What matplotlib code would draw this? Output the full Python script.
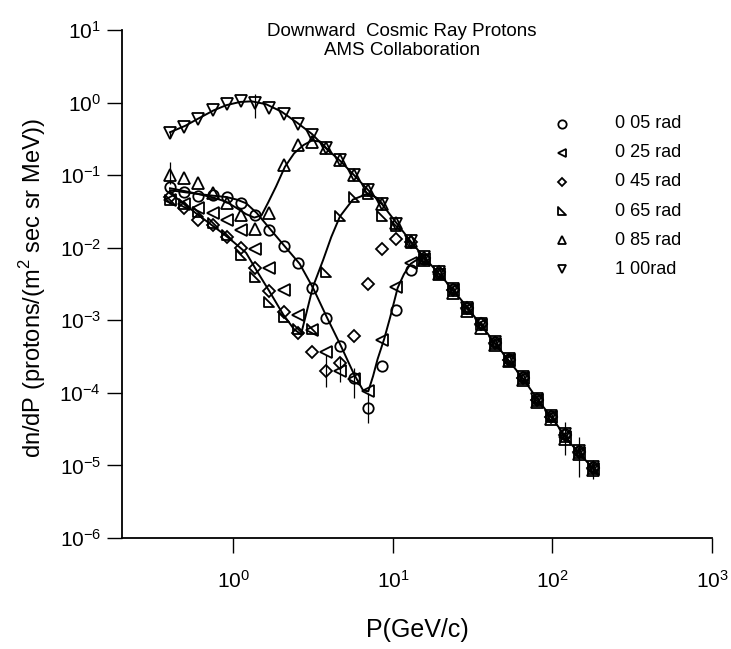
import numpy as np
import matplotlib
matplotlib.use('Agg')
import matplotlib.pyplot as plt
from matplotlib.path import Path

plt.rcParams['font.family'] = ['Liberation Sans', 'DejaVu Sans']
plt.rcParams['mathtext.fontset'] = 'custom'
plt.rcParams['mathtext.rm'] = 'Liberation Sans'
plt.rcParams['axes.unicode_minus'] = False

# momentum bins (GeV/c)
P = [0.40, 0.49, 0.60, 0.74, 0.91, 1.12, 1.37, 1.68, 2.06, 2.52, 3.09, 3.79, 4.65, 5.70, 6.98,
     8.56, 10.5, 12.9, 15.7, 19.3, 23.7, 29.0, 35.5, 43.5, 53.3, 65.5, 80.2, 98.3, 120, 147, 180]

labels = ['0 05 rad', '0 25 rad', '0 45 rad', '0 65 rad', '0 85 rad', '1 00rad']

# dn/dP for each zenith angle bin
y005 = [0.068, 0.058, 0.052, 0.053, 0.050, 0.041, 0.028, 0.0178, 0.0104, 0.0062, 0.0028, 0.00107,
        0.00044, 0.00016, 6.2e-5, 0.000235, 0.00139, 0.0049,
        0.0071, 0.0045, 0.0027, 0.00150, 0.00092, 0.00050, 0.00029, 0.000165, 8.2e-5, 4.8e-5, 2.7e-5, 1.6e-5, 9.5e-6]
y025 = [0.045, 0.040, 0.035, 0.030, 0.024, 0.0176, 0.0097, 0.0052, 0.0026, 0.0012, 0.00074, 0.00036,
        0.00020, 0.000155, 0.000107, 0.00054, 0.0029, 0.0061,
        0.0069, 0.0044, 0.0026, 0.00145, 0.00086, 0.00047, 0.00028, 0.000158, 7.9e-5, 4.6e-5, 2.5e-5, 1.5e-5, 9.0e-6]
y045 = [0.050, 0.035, 0.024, 0.0205, 0.014, 0.0098, 0.0052, 0.0025, 0.0013, 0.00066, 0.00036, 0.00020,
        0.00026, 0.00060, 0.0032, 0.0095, 0.0130, 0.0118,
        0.0073, 0.0046, 0.0026, 0.00148, 0.00088, 0.00049, 0.000285, 0.00016, 8.0e-5, 4.7e-5, 2.6e-5, 1.55e-5, 9.2e-6]
y065 = [0.045, 0.040, 0.031, 0.022, 0.015, 0.0080, 0.0040, 0.0018, 0.0011, 0.00075, 0.00075, 0.0047,
        0.027, 0.050, 0.055, 0.027, 0.020, 0.0115,
        0.0070, 0.0044, 0.0025, 0.00142, 0.00085, 0.00047, 0.000278, 0.000156, 7.8e-5, 4.6e-5, 2.5e-5, 1.5e-5, 8.9e-6]
y085 = [0.10, 0.090, 0.079, 0.057, 0.041, 0.028, 0.018, 0.030, 0.138, 0.26, 0.29, 0.24,
        0.16, 0.10, 0.062, 0.040, 0.022, 0.0125,
        0.0068, 0.0043, 0.0024, 0.00135, 0.00078, 0.00046, 0.000275, 0.000152, 7.5e-5, 4.4e-5, 2.3e-5, 1.45e-5, 8.6e-6]
y100 = [0.385, 0.466, 0.594, 0.78, 0.95, 1.06, 1.00, 0.84, 0.69, 0.50, 0.36, 0.235,
        0.16, 0.10, 0.063, 0.040, 0.0215, 0.0125,
        0.0074, 0.0046, 0.0027, 0.00150, 0.00090, 0.00050, 0.00029, 0.000164, 8.2e-5, 4.8e-5, 2.7e-5, 1.6e-5, 9.4e-6]

# fitted curves
fit100_P = [0.40, 0.50, 0.60, 0.75, 0.90, 1.10, 1.30, 1.60, 2.00, 2.50, 3.10, 3.80, 4.70, 5.70, 7.00,
            8.60, 10.5, 13.0, 16.0, 20.0, 25.0, 30.0, 40.0, 50.0, 65.0, 80.0, 100, 130, 180]
fit100_y = [0.39, 0.48, 0.60, 0.78, 0.92, 1.02, 1.04, 0.95, 0.75, 0.53, 0.37, 0.235, 0.155, 0.10, 0.062,
            0.039, 0.022, 0.012, 0.0070, 0.0041, 0.0023, 0.0014, 0.00062, 0.00033, 0.00016, 8.3e-5, 4.4e-5, 2.0e-5, 9.0e-6]
fit085_P = [0.40, 0.50, 0.60, 0.75, 0.90, 1.05, 1.20, 1.35, 1.50, 1.65, 1.85, 2.10, 2.40, 2.75, 3.10, 3.50, 4.00]
fit085_y = [0.066, 0.060, 0.055, 0.049, 0.043, 0.035, 0.029, 0.026, 0.028, 0.042, 0.070, 0.13, 0.20, 0.26, 0.30, 0.29, 0.21]
fit065_P = [0.40, 0.48, 0.58, 0.70, 0.85, 1.00, 1.20, 1.40, 1.70, 2.05, 2.40, 2.65, 2.85, 3.15, 3.65, 4.10,
            4.65, 5.60, 7.00, 8.00, 8.60]
fit065_y = [0.056, 0.042, 0.030, 0.022, 0.016, 0.012, 0.0085, 0.0048, 0.0024, 0.0012, 0.00075, 0.00064,
            0.0012, 0.0029, 0.0068, 0.014, 0.027, 0.046, 0.056, 0.048, 0.040]
fit005_P = [0.40, 0.50, 0.60, 0.75, 0.90, 1.05, 1.20, 1.40, 1.70, 2.10, 2.60, 3.15, 3.85, 4.70, 5.70, 6.50,
            7.00, 7.50, 8.00, 8.80, 9.60, 10.7, 11.7, 12.9, 14.2, 15.5]
fit005_y = [0.062, 0.058, 0.055, 0.052, 0.050, 0.046, 0.041, 0.030, 0.018, 0.0104, 0.0060, 0.0028, 0.0011,
            0.00045, 0.00018, 0.000108, 0.000105, 0.00017, 0.00029, 0.00055, 0.0011, 0.0028, 0.0043, 0.0060,
            0.0069, 0.0071]

# a few visible error bars
bar_P = [0.40, 0.40, 1.37, 3.79, 4.65, 5.70, 6.98, 120, 147, 180]
bar_lo = [0.075, 0.33, 0.62, 0.00012, 0.00014, 8.5e-5, 3.8e-5, 1.4e-5, 7.0e-6, 6.5e-6]
bar_hi = [0.15, 0.40, 1.30, 0.00033, 0.00031, 0.00022, 0.00010, 4.0e-5, 2.5e-5, 1.2e-5]

rtri = Path([(-1, 1), (-1, -1), (1, -1), (-1, 1)], [Path.MOVETO, Path.LINETO, Path.LINETO, Path.CLOSEPOLY])
markers = ['o', '<', 'D', rtri, '^', 'v']
sizes = [7.5, 8, 6, 7.5, 8, 8]
leg_sizes = [6, 6, 4.5, 6, 6, 6]
series = [y005, y025, y045, y065, y085, y100]

fig = plt.figure(figsize=(7.31, 6.49), dpi=100)
ax = fig.add_axes([122 / 731, 111 / 649, 590 / 731, 508 / 649])
ax.set_xscale('log')
ax.set_yscale('log')

for fp, fy in [(fit100_P, fit100_y), (fit085_P, fit085_y), (fit065_P, fit065_y), (fit005_P, fit005_y)]:
    ax.plot(fp, fy, color='black', lw=1.4, zorder=2)

ax.vlines(bar_P, bar_lo, bar_hi, color='black', lw=0.9, zorder=2)

for yv, mk, ms in zip(series, markers, sizes):
    ax.plot(P, yv, linestyle='none', marker=mk, ms=ms, mfc='none', mec='black', mew=1.3, zorder=3)

ax.set_xlim(0.2, 1000)
ax.set_ylim(1e-6, 10)
ax.set_xticks([1, 10, 100, 1000])
ax.set_yticks([1e-6, 1e-5, 1e-4, 1e-3, 1e-2, 1e-1, 1, 10])
ax.minorticks_off()
ax.tick_params(direction='out', length=11, width=1.0, labelsize=15, color='black')
ax.tick_params(axis='x', pad=12)
ax.tick_params(axis='y', pad=4)
ax.spines['top'].set_visible(False)
ax.spines['right'].set_visible(False)
ax.spines['left'].set_linewidth(1.3)
ax.spines['bottom'].set_linewidth(1.3)

# legend drawn by hand
for i, (lab, mk, ms) in enumerate(zip(labels, markers, leg_sizes)):
    yy = 0.815 - i * 0.0571
    ax.plot([0.745], [yy], transform=ax.transAxes, marker=mk, ms=ms, mfc='none', mec='black',
            mew=1.3, linestyle='none', clip_on=False)
    ax.text(0.835, yy, lab, transform=ax.transAxes, va='center', ha='left', fontsize=13)

fig.text(402 / 731, 1 - 23 / 649, 'Downward  Cosmic Ray Protons\nAMS Collaboration', ha='center', va='top',
         fontsize=13.5, linespacing=1.15)
fig.text(33 / 731, 1 - 288 / 649, 'dn/dP (protons/(m$^2$ sec sr MeV))', rotation=90, ha='center',
         va='center', fontsize=17)
fig.text(417 / 731, 1 - 630 / 649, 'P(GeV/c)', ha='center', va='center', fontsize=18)

fig.savefig('out.png', dpi=100)
